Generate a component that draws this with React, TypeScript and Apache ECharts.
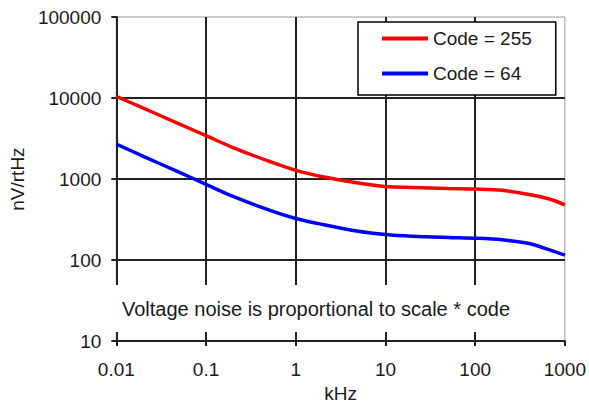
import React, { useEffect, useRef } from "react";
import * as echarts from "echarts";

const freqs = [0.01, 0.02, 0.05, 0.1, 0.2, 0.5, 1, 2, 5, 10, 20, 50, 100, 200, 400, 700, 1000];
const code255 = [10500, 7500, 4800, 3430, 2450, 1660, 1280, 1070, 895, 810, 788, 765, 753, 727, 645, 560, 479];
const code64 = [2700, 1910, 1215, 860, 610, 417, 326, 275, 227, 207, 197, 190, 186, 178, 160, 132, 115];
const seriesNames = ["Code = 255", "Code = 64"];
const note = "Voltage noise is proportional to scale * code";
const xName = "kHz";
const yName = "nV/rtHz";

const FONT = "'Liberation Sans', Arial, sans-serif";
const TXT = "#1a1a1a";
const GRID_C = "#222";

export default function App() {
  const ref = useRef<HTMLDivElement>(null);
  useEffect(() => {
    if (!ref.current) return;
    const chart = echarts.init(ref.current, undefined, { renderer: "svg" });
    const fmt = (v: number) => String(+Number(v).toPrecision(6));
    chart.setOption({
      animation: false,
      backgroundColor: "#fff",
      textStyle: { fontFamily: FONT },
      grid: { left: 101, right: 22, top: 17, bottom: 54, show: true, borderColor: "#999", borderWidth: 1 },
      legend: {
        orient: "vertical",
        left: 358,
        top: 22,
        padding: [7, 24, 12, 24],
        icon: "rect",
        itemWidth: 46,
        itemHeight: 4,
        itemGap: 16,
        backgroundColor: "#fff",
        borderColor: "#000",
        borderWidth: 1.5,
        textStyle: { fontSize: 19, color: TXT, fontFamily: FONT },
        data: seriesNames,
        z: 20,
      },
      xAxis: {
        type: "log",
        logBase: 10,
        min: 0.01,
        max: 1000,
        name: xName,
        nameLocation: "middle",
        nameGap: 38,
        nameTextStyle: { fontSize: 19, color: TXT, fontFamily: FONT },
        axisLine: { show: true, lineStyle: { color: GRID_C, width: 2 } },
        axisTick: { show: true, length: 5, lineStyle: { color: GRID_C, width: 2 } },
        axisLabel: { fontSize: 19, color: TXT, margin: 19, formatter: fmt, fontFamily: FONT },
        splitLine: { show: true, showMaxLine: false, lineStyle: { color: GRID_C, width: 2 } },
        minorTick: { show: false },
      },
      yAxis: {
        type: "log",
        logBase: 10,
        min: 10,
        max: 100000,
        name: yName,
        nameLocation: "middle",
        nameGap: 70,
        nameTextStyle: { fontSize: 19, color: TXT, fontFamily: FONT },
        axisLine: { show: true, lineStyle: { color: GRID_C, width: 2 } },
        axisTick: { show: true, length: 5, lineStyle: { color: GRID_C, width: 2 } },
        axisLabel: { fontSize: 19, color: TXT, margin: 15, formatter: fmt, fontFamily: FONT },
        splitLine: { show: true, showMaxLine: false, lineStyle: { color: GRID_C, width: 2 } },
      },
      graphic: [
        {
          type: "rect",
          shape: { x: 112, y: 285, width: 410, height: 47 },
          style: { fill: "#fff" },
          z: 5,
        },
        {
          type: "text",
          x: 316,
          y: 309,
          style: {
            text: note,
            fontSize: 20,
            fontFamily: FONT,
            fill: TXT,
            align: "center",
            verticalAlign: "middle",
          },
          z: 6,
        },
      ],
      series: [
        {
          name: seriesNames[0],
          type: "line",
          symbol: "none",
          smooth: 0.3,
          lineStyle: { color: "#ff0000", width: 3.5 },
          itemStyle: { color: "#ff0000" },
          data: freqs.map((f, i) => [f, code255[i]]),
          z: 3,
        },
        {
          name: seriesNames[1],
          type: "line",
          symbol: "none",
          smooth: 0.3,
          lineStyle: { color: "#0000ff", width: 3.5 },
          itemStyle: { color: "#0000ff" },
          data: freqs.map((f, i) => [f, code64[i]]),
          z: 3,
        },
      ],
    });
    return () => chart.dispose();
  }, []);
  return <div ref={ref} style={{ position: "fixed", left: 0, top: 0, width: 589, height: 408 }} />;
}
